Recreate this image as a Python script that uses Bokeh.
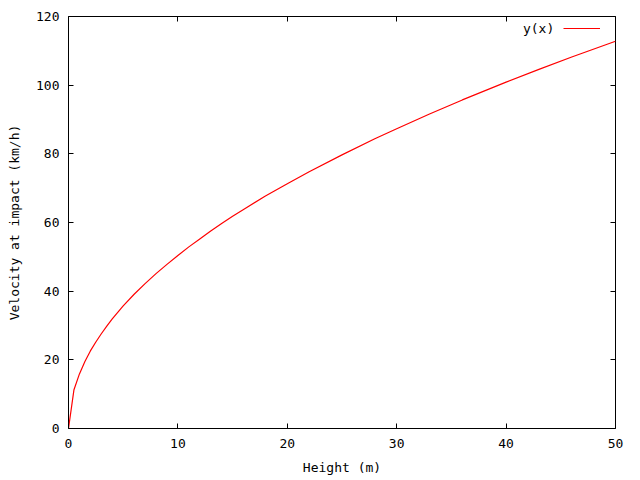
from bokeh.plotting import figure
from bokeh.models import LinearAxis, Legend, LegendItem, Label, FixedTicker, Range1d
from bokeh.embed import file_html
from bokeh.resources import INLINE

# Data: height (m) vs velocity at impact (km/h)
height = [0, 0.5, 1, 1.5, 2, 2.5, 3, 3.5, 4, 5, 6, 7, 8, 9, 10, 11, 12, 13, 14,
          15, 16, 18, 20, 22, 25, 28, 30, 33, 36, 40, 43, 46, 50]
velocity = [0, 11.3, 15.9, 19.5, 22.6, 25.2, 27.6, 29.8, 31.9, 35.7, 39.1, 42.2,
            45.1, 47.8, 50.4, 52.9, 55.2, 57.5, 59.7, 61.8, 63.8, 67.7, 71.3,
            74.8, 79.7, 84.4, 87.3, 91.6, 95.7, 100.9, 104.6, 108.2, 112.8]
x_ticks = [0, 10, 20, 30, 40, 50]
y_ticks = [0, 20, 40, 60, 80, 100, 120]
series_name = "y(x)"

FONT = "DejaVu Sans Mono"
FS = "13px"

p = figure(width=640, height=480, output_backend="svg", toolbar_location=None,
           x_range=Range1d(0, 50), y_range=Range1d(0, 120),
           min_border_left=68, min_border_right=25, min_border_top=16,
           min_border_bottom=52)
p.background_fill_color = "white"
p.border_fill_color = "white"
p.outline_line_color = "black"
p.outline_line_width = 1
p.xgrid.visible = False
p.ygrid.visible = False

r = p.line(height, velocity, line_color="#ff0000", line_width=1.2)

for ax in p.xaxis + p.yaxis:
    ax.axis_line_color = None
    ax.major_tick_in = 5
    ax.major_tick_out = 0
    ax.minor_tick_line_color = None
    ax.major_label_text_font = FONT
    ax.major_label_text_font_size = FS
    ax.major_label_text_color = "black"
    ax.axis_label_text_font = FONT
    ax.axis_label_text_font_size = FS
    ax.axis_label_text_font_style = "normal"
    ax.axis_label_text_color = "black"

p.xaxis.ticker = FixedTicker(ticks=x_ticks)
p.yaxis.ticker = FixedTicker(ticks=y_ticks)
p.xaxis.axis_label = "Height (m)"
p.yaxis.axis_label = "Velocity at impact (km/h)"
p.xaxis.major_label_standoff = 10
p.yaxis.major_label_standoff = 9
p.xaxis.axis_label_standoff = 9
p.yaxis.axis_label_standoff = 11

# mirror ticks
top = LinearAxis(ticker=FixedTicker(ticks=x_ticks))
right = LinearAxis(ticker=FixedTicker(ticks=y_ticks))
for ax in (top, right):
    ax.axis_line_color = None
    ax.major_tick_in = 5
    ax.major_tick_out = 0
    ax.minor_tick_line_color = None
    ax.major_label_text_font_size = "0px"
    ax.major_label_text_color = None
    ax.major_label_standoff = 0
p.add_layout(top, "above")
p.add_layout(right, "right")

legend = Legend(items=[LegendItem(label=" ", renderers=[r])],
                location=(495, 390), glyph_width=37, glyph_height=20,
                padding=0, margin=0, spacing=0, label_standoff=0,
                label_width=1, label_height=20,
                border_line_color=None, background_fill_alpha=0)
p.add_layout(legend)

p.add_layout(Label(x=44.4, y=116.4, text=series_name, text_align="right",
                   text_baseline="middle", text_font=FONT, text_font_size=FS,
                   text_color="black"))

open("out.html", "w").write(file_html(p, INLINE))
